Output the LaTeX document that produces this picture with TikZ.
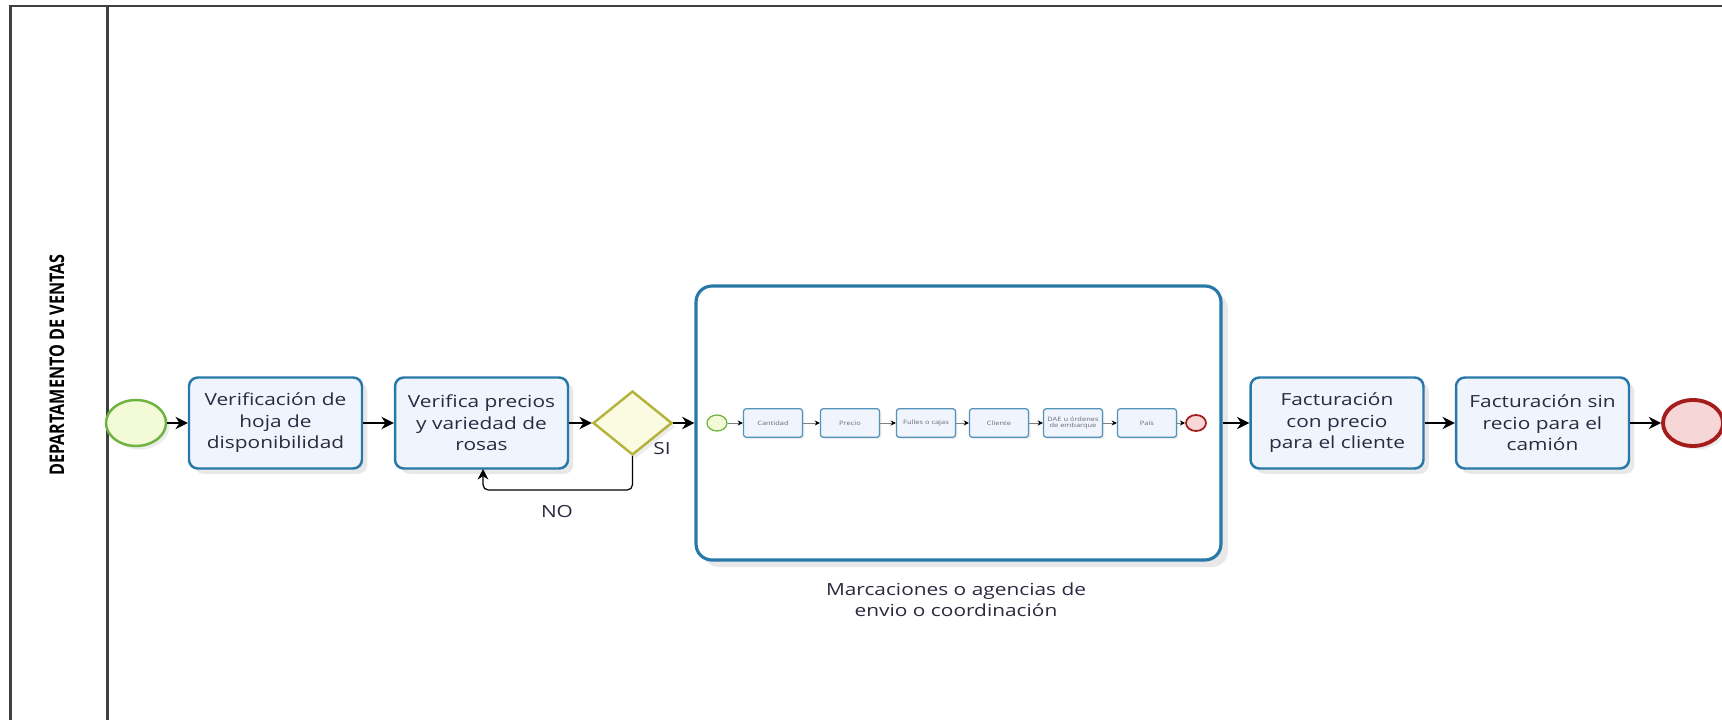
\documentclass[tikz,border=0pt]{standalone}
\usepackage{fontspec}
\setmainfont{Open Sans}[FakeStretch=1.25]
\newfontfamily\lanefont{Open Sans}[FakeStretch=0.8]
\usepackage{xcolor}
\usepackage{tikz}
\usetikzlibrary{shapes,arrows,positioning,calc,shadows,arrows.meta}

\definecolor{taskblue}{HTML}{2878A8}
\definecolor{taskfill}{HTML}{F0F4FC}
\definecolor{startgreen}{HTML}{6CB33F}
\definecolor{startfill}{HTML}{F2FAD6}
\definecolor{endred}{HTML}{A51C1C}
\definecolor{endfill}{HTML}{F6D6D6}
\definecolor{gwline}{HTML}{B4B43C}
\definecolor{gwfill}{HTML}{FBFBE2}
\definecolor{txt}{HTML}{2A2A40}
\definecolor{laneline}{HTML}{404040}

\tikzset{
  lane/.style={draw=laneline, line width=1.2pt},
  task/.style={draw=taskblue, line width=1.4pt, fill=taskfill, rounded corners=5pt,
    minimum width=3.46cm, minimum height=1.82cm, align=center, text=txt,
    font=\fontsize{9.5}{12.2}\selectfont,
    drop shadow={opacity=0.18, shadow xshift=3pt, shadow yshift=-3pt}},
  subproc/.style={draw=taskblue, line width=1.8pt, fill=white, rounded corners=9pt,
    minimum width=10.5cm, minimum height=5.48cm,
    drop shadow={opacity=0.18, shadow xshift=4pt, shadow yshift=-4pt}},
  minitask/.style={draw=taskblue!80, line width=0.7pt, fill=taskfill, rounded corners=1.5pt,
    minimum width=1.18cm, minimum height=0.57cm, inner sep=1pt, align=center, text=txt!70,
    font=\fontsize{3.4}{3.8}\selectfont,
    drop shadow={opacity=0.15, shadow xshift=1pt, shadow yshift=-1pt}},
  startev/.style={ellipse, draw=startgreen, line width=1.4pt, fill=startfill,
    minimum width=1.2cm, minimum height=0.92cm, inner sep=0pt,
    drop shadow={opacity=0.15, shadow xshift=2pt, shadow yshift=-2pt}},
  endev/.style={ellipse, draw=endred, line width=2.2pt, fill=endfill,
    minimum width=1.2cm, minimum height=0.92cm, inner sep=0pt,
    drop shadow={opacity=0.15, shadow xshift=2pt, shadow yshift=-2pt}},
  ministart/.style={ellipse, draw=startgreen, line width=0.7pt, fill=startfill,
    minimum width=0.4cm, minimum height=0.32cm, inner sep=0pt},
  miniend/.style={ellipse, draw=endred, line width=1pt, fill=endfill,
    minimum width=0.4cm, minimum height=0.32cm, inner sep=0pt},
  gateway/.style={diamond, draw=gwline, line width=1.4pt, fill=gwfill,
    minimum width=1.58cm, minimum height=1.28cm, inner sep=0pt,
    drop shadow={opacity=0.15, shadow xshift=2pt, shadow yshift=-2pt}},
  flow/.style={black, line width=1.1pt, -{Stealth[length=7pt,width=7pt]}},
  miniflow/.style={gray, line width=0.5pt, -{Stealth[length=3pt,width=3pt,black]}},
  loopflow/.style={black, line width=0.7pt, rounded corners=3pt, -{Stealth[length=6pt,width=6pt]}},
  lbl/.style={text=txt, font=\fontsize{9.5}{12.2}\selectfont, align=center}
}

\begin{document}
\begin{tikzpicture}[x=0.02cm, y=-0.02cm]
    \useasboundingbox (0,0) rectangle (1722,720);

    % Pool and lane
    \draw[lane] (10.5,720) -- (10.5,6) -- (1722,6);
    \draw[lane] (107.5,6) -- (107.5,720);
    \node[rotate=90, text=black, font=\lanefont\bfseries\fontsize{11.5}{13}\selectfont] (lanename) at (57,365) {DEPARTAMENTO DE VENTAS};

    % Main flow
    \node[startev] (start) at (136,423) {};
    \node[task] (t1) at (275.5,423) {Verificación de\\hoja de\\disponibilidad};
    \node[task] (t2) at (481.5,423) {Verifica precios\\y variedad de\\rosas};
    \node[gateway] (gw) at (632.5,423) {};
    \node[lbl] (si) at (662,449) {SI};
    \node[lbl] (no) at (557,512) {NO};

    % Subprocess
    \node[subproc] (sub) at (958.5,423) {};
    \node[lbl] (sublbl) at (956,600) {Marcaciones o agencias de\\envio o coordinación};
    \node[ministart] (s0) at (717,423) {};
    \node[minitask] (s1) at (773,423) {Cantidad};
    \node[minitask] (s2) at (850,423) {Precio};
    \node[minitask] (s3) at (926,423) {Fulles o cajas};
    \node[minitask] (s4) at (999,423) {Cliente};
    \node[minitask] (s5) at (1073,423) {DAE u órdenes\\de embarque};
    \node[minitask] (s6) at (1147,423) {País};
    \node[miniend] (s7) at (1196,423) {};

    \node[task] (t3) at (1337,423) {Facturación\\con precio\\para el cliente};
    \node[task] (t4) at (1542.5,423) {Facturación sin\\recio para el\\camión};
    \node[endev] (finish) at (1693,423) {};

    % Connectors
    \draw[flow] (start) -- (t1);
    \draw[flow] (t1) -- (t2);
    \draw[flow] (t2) -- (gw);
    \draw[flow] (gw) -- (sub);
    \draw[flow] (sub) -- (t3);
    \draw[flow] (t3) -- (t4);
    \draw[flow] (t4) -- (finish);
    \coordinate (nobend) at (632.5,490);
    \coordinate (noend) at (483,469);
    \draw[loopflow] (gw.south) -- (nobend) -| (noend);

    \draw[miniflow] (s0) -- (s1);
    \draw[miniflow] (s1) -- (s2);
    \draw[miniflow] (s2) -- (s3);
    \draw[miniflow] (s3) -- (s4);
    \draw[miniflow] (s4) -- (s5);
    \draw[miniflow] (s5) -- (s6);
    \draw[miniflow] (s6) -- (s7);
\end{tikzpicture}
\end{document}
